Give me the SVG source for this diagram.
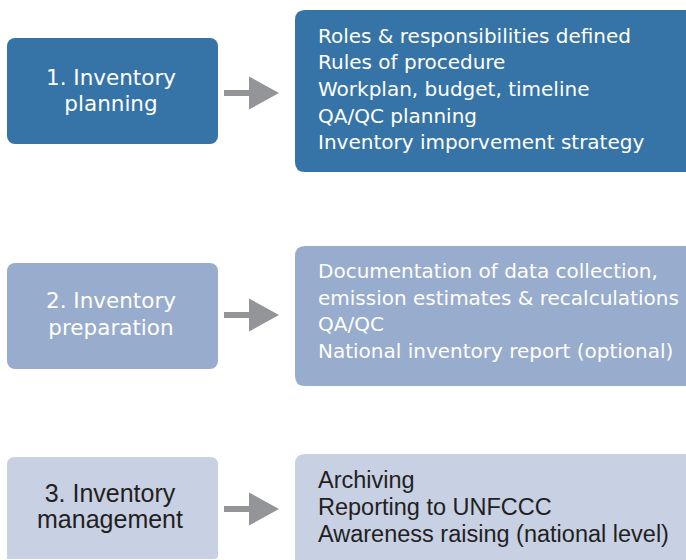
<svg xmlns="http://www.w3.org/2000/svg" width="686" height="560" viewBox="0 0 686 560">
  <style>
    .dark { fill: #3674a8; }
    .mid { fill: #98acce; }
    .light { fill: #c8d0e4; }
    .arrow { fill: #939598; }
    .stage { font-family: "DejaVu Sans", "Liberation Sans", sans-serif; font-size: 21.5px; fill: #ffffff; text-anchor: middle; }
    .stage-alt { font-family: "Liberation Sans", Arial, sans-serif; font-size: 25px; fill: #231f20; text-anchor: middle; }
    .item { font-family: "DejaVu Sans", "Liberation Sans", sans-serif; font-size: 20px; fill: #ffffff; }
    .item-alt { font-family: "Liberation Sans", Arial, sans-serif; font-size: 23.5px; fill: #231f20; }
  </style>
  <defs>
    <path id="arrow-shape" d="M224,-3 H249 V-16.5 L279,0 L249,16.5 V3 H224 Z"/>
  </defs>
  <rect width="686" height="560" fill="#ffffff"/>

  <!-- Stage 1: planning -->
  <g id="stage1">
    <rect class="dark" x="7" y="38" width="211" height="106" rx="8"/>
    <text class="stage" x="111" y="85">1. Inventory</text>
    <text class="stage" x="111" y="111">planning</text>
  </g>
  <g id="tasks1">
    <path class="dark" d="M305,10 H686 V172 H305 Q295,172 295,162 V20 Q295,10 305,10 Z"/>
    <text class="item" x="318" y="43">Roles &amp; responsibilities defined</text>
    <text class="item" x="318" y="69">Rules of procedure</text>
    <text class="item" x="318" y="96">Workplan, budget, timeline</text>
    <text class="item" x="318" y="123">QA/QC planning</text>
    <text class="item" x="318" y="149">Inventory imporvement strategy</text>
  </g>

  <!-- Stage 2: preparation -->
  <g id="stage2">
    <rect class="mid" x="7" y="263" width="211" height="106" rx="8"/>
    <text class="stage" x="111" y="308">2. Inventory</text>
    <text class="stage" x="111" y="335">preparation</text>
  </g>
  <g id="tasks2">
    <path class="mid" d="M305,246 H686 V386 H305 Q295,386 295,376 V256 Q295,246 305,246 Z"/>
    <text class="item" x="318" y="278">Documentation of data collection,</text>
    <text class="item" x="318" y="305">emission estimates &amp; recalculations</text>
    <text class="item" x="318" y="331">QA/QC</text>
    <text class="item" x="318" y="358">National inventory report (optional)</text>
  </g>

  <!-- Stage 3: management -->
  <g id="stage3">
    <path class="light" d="M15,457 H210 Q218,457 218,465 V555 Q218,559 214,559 H7 V465 Q7,457 15,457 Z"/>
    <text class="stage-alt" x="110" y="502">3. Inventory</text>
    <text class="stage-alt" x="110" y="528">management</text>
  </g>
  <g id="tasks3">
    <path class="light" d="M305,454 H686 V560 H295 V464 Q295,454 305,454 Z"/>
    <text class="item-alt" x="318" y="488">Archiving</text>
    <text class="item-alt" x="318" y="515">Reporting to UNFCCC</text>
    <text class="item-alt" x="318" y="542">Awareness raising (national level)</text>
  </g>

  <!-- Connectors -->
  <g id="connectors">
    <use href="#arrow-shape" class="arrow" transform="translate(0,93)"/>
    <use href="#arrow-shape" class="arrow" transform="translate(0,315)"/>
    <use href="#arrow-shape" class="arrow" transform="translate(0,509)"/>
  </g>
</svg>
